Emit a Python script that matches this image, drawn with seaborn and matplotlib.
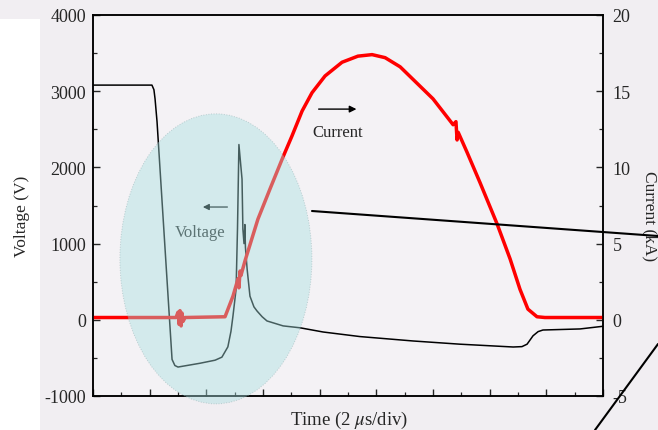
import numpy as np
import pandas as pd
import matplotlib
matplotlib.use("Agg")
import matplotlib.pyplot as plt
import seaborn as sns
from matplotlib.patches import Ellipse
from matplotlib.lines import Line2D
from matplotlib.ticker import MultipleLocator, NullFormatter

# ---- data (time in microseconds) ----
volt_t = [0.00, 2.08, 2.15, 2.19, 2.26, 2.54, 2.79, 2.89, 3.00, 3.78, 4.31, 4.55,
          4.76, 4.87, 4.94, 5.05, 5.10, 5.15, 5.21, 5.26, 5.29, 5.33, 5.36, 5.38,
          5.44, 5.54, 5.68, 5.79, 5.97, 6.14, 6.71, 7.31, 8.12, 9.42, 11.30, 12.95,
          14.83, 15.14, 15.32, 15.53, 15.71, 15.88, 17.19, 18.00]
volt_v = [3080, 3080, 3020, 2900, 2600, 950, -520, -600, -620, -570, -530, -490,
          -355, -150, 50, 400, 1200, 2300, 2050, 1846, 1190, 1000, 1250, 950,
          665, 310, 170, 115, 40, -15, -80, -105, -160, -220, -278, -320,
          -357, -352, -320, -210, -155, -134, -120, -85]

curr_t = [0.00, 2.93, 3.00, 3.04, 3.07, 3.11, 3.14, 3.18, 3.25, 4.66, 4.94, 5.12,
          5.15, 5.19, 5.22, 5.37, 5.82, 6.25, 6.71, 7.02, 7.38, 7.73, 8.19, 8.79,
          9.35, 9.85, 10.31, 10.84, 12.00, 12.71, 12.81, 12.85, 12.89, 13.20, 13.66,
          14.26, 14.72, 15.07, 15.35, 15.67, 15.95, 18.00]
curr_ka = [0.15, 0.15, 0.5, -0.3, 0.6, -0.4, 0.45, -0.1, 0.15, 0.2, 1.55, 2.7,
           2.1, 3.2, 2.9, 3.9, 6.6, 8.6, 10.7, 12.05, 13.7, 14.9, 16.0, 16.9,
           17.3, 17.4, 17.2, 16.6, 14.5, 12.8, 13.0, 11.8, 12.3, 11.0, 9.0,
           6.3, 4.0, 2.0, 0.7, 0.2, 0.15, 0.15]

volt_ticks = [-1000, 0, 1000, 2000, 3000, 4000]
curr_ticks = [-5, 0, 5, 10, 15, 20]

volt_df = pd.DataFrame({"t": volt_t, "V": volt_v})
curr_df = pd.DataFrame({"t": curr_t, "I": curr_ka})

sns.set_style("ticks")
plt.rcParams["font.family"] = ["Liberation Serif", "DejaVu Serif"]
plt.rcParams["mathtext.fontset"] = "stix"
plt.rcParams["axes.unicode_minus"] = False

BG = "#f1eef2"
fig = plt.figure(figsize=(6.58, 4.31), dpi=100, facecolor=BG)
ax = fig.add_axes([93/658, 1-397/431, 510/658, 381/431])
ax.set_facecolor("#f4f2f5")
ax2 = ax.twinx()

# white patch at the far left (part of the background picture)
fig.add_artist(plt.Rectangle((0, 0), 40/658, 1-20/431, transform=fig.transFigure,
                             facecolor="white", edgecolor="none", zorder=-10))

sns.lineplot(data=volt_df, x="t", y="V", ax=ax, color="black", lw=1.1,
             sort=False, estimator=None)
sns.lineplot(data=curr_df, x="t", y="I", ax=ax2, color="#ff0000", lw=2.5,
             sort=False, estimator=None)

ax.set_xlim(0, 18)
ax.set_ylim(-1000, 4000)
ax2.set_ylim(-5, 20)

ax.xaxis.set_major_locator(MultipleLocator(2))
ax.xaxis.set_minor_locator(MultipleLocator(1))
ax.xaxis.set_major_formatter(NullFormatter())
ax.set_yticks(volt_ticks)
ax.yaxis.set_minor_locator(MultipleLocator(500))
ax2.set_yticks(curr_ticks)
ax2.yaxis.set_minor_locator(MultipleLocator(2.5))

for a in (ax, ax2):
    for s in a.spines.values():
        s.set_linewidth(1.1)
        s.set_color("black")
ax.tick_params(axis="both", which="major", direction="in", length=5, width=1.0,
               labelsize=13, pad=5, top=False)
ax.tick_params(axis="both", which="minor", direction="in", length=3, width=0.9, top=False)
ax2.tick_params(axis="y", which="major", direction="in", length=5, width=1.0,
                labelsize=13, pad=7)
ax2.tick_params(axis="y", which="minor", direction="in", length=3, width=0.9)

ax.set_xlabel(r"Time (2 $\mu$s/div)", fontsize=13.5)
ax.xaxis.set_label_coords(0.503, -0.033)
ax.set_ylabel("Voltage (V)", fontsize=12.5)
ax.yaxis.set_label_coords(-0.123, 0.475)
ax2.set_ylabel("Current (kA)", fontsize=12.5, rotation=270, va="center")
ax2.yaxis.set_label_coords(1.092, 0.475)

# annotations
ax2.annotate("", xy=(0.522, 0.753), xytext=(0.437, 0.753), xycoords="axes fraction",
             arrowprops=dict(arrowstyle="-|>", color="black", lw=1.0, mutation_scale=10))
ax2.text(0.480, 0.693, "Current", transform=ax2.transAxes, ha="center", va="center",
         fontsize=12)
ax2.annotate("", xy=(0.210, 0.496), xytext=(0.269, 0.496), xycoords="axes fraction",
             arrowprops=dict(arrowstyle="-|>", color="black", lw=0.9, mutation_scale=9),
             zorder=3)
ax2.text(0.210, 0.430, "Voltage", transform=ax2.transAxes, ha="center", va="center",
         fontsize=12, zorder=3)

# shaded ellipse over the transient
ell = Ellipse(xy=(0.241, 0.36), width=192/510, height=290/381, transform=ax2.transAxes,
              facecolor="#a6dfe0", alpha=0.42, edgecolor="#7f9fa2", lw=0.7, ls=":",
              zorder=10, clip_on=False)
ax2.add_patch(ell)

# stray diagonal lines in the picture
fig.add_artist(Line2D([312/658, 1.0], [1-212/431, 1-237/431], transform=fig.transFigure,
                      color="black", lw=1.5))
fig.add_artist(Line2D([595/658, 1.0], [0.0, 1-345/431], transform=fig.transFigure,
                      color="black", lw=1.5))

fig.savefig("out.png", dpi=100, facecolor=BG)
